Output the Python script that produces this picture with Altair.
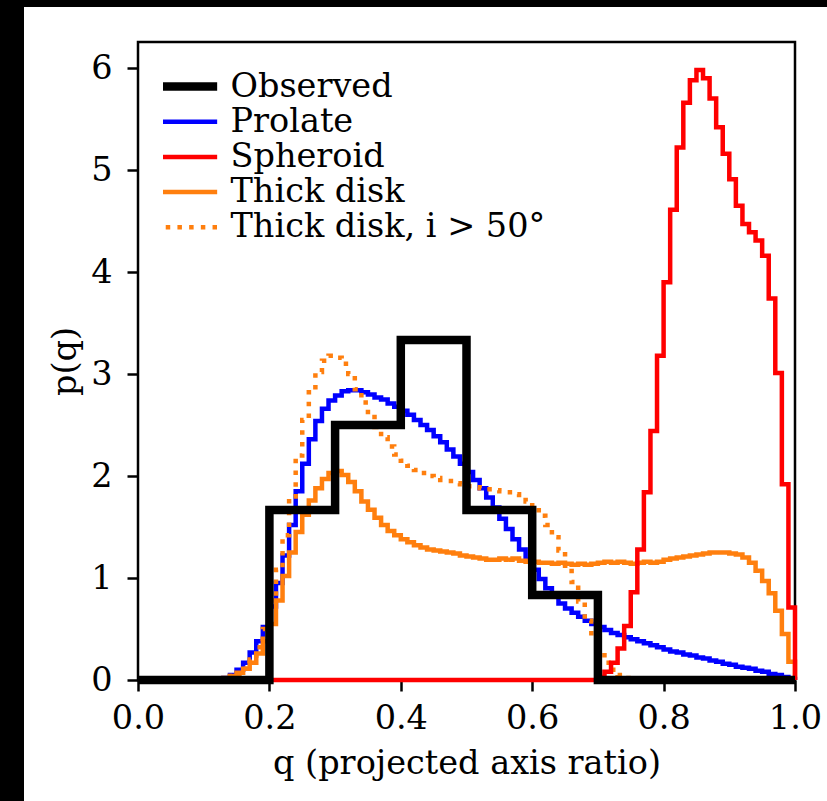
import altair as alt
import pandas as pd

SERIES = ["Observed", "Prolate", "Spheroid", "Thick disk", "Thick disk, i > 50°"]
COLORS = ["#000000", "#0000ff", "#ff0000", "#ff7f0e", "#ff7f0e"]
DASHES = [[1, 0], [1, 0], [1, 0], [1, 0], [4.5, 7.2]]

# observed histogram: 10 bins of width 0.1
obs_edges = [0.0, 0.1, 0.2, 0.3, 0.4, 0.5, 0.6, 0.7, 0.8, 0.9]
observed = [0.0, 0.0, 1.667, 2.5, 3.333, 1.667, 0.833, 0.0, 0.0, 0.0]

# model histograms: 100 bins of width 0.01 (left edges)
fine_edges = [i / 100 for i in range(100)]

prolate = [
    0, 0, 0, 0, 0, 0, 0, 0, 0, 0,
    0, 0, 0, 0.02, 0.05, 0.10, 0.17, 0.27, 0.38, 0.52,
    0.72, 0.95, 1.22, 1.52, 1.85, 2.12, 2.36, 2.54, 2.66, 2.74,
    2.79, 2.83, 2.84, 2.84, 2.82, 2.80, 2.77, 2.75, 2.71, 2.68,
    2.64, 2.60, 2.55, 2.50, 2.45, 2.39, 2.33, 2.26, 2.19, 2.12,
    2.04, 1.96, 1.88, 1.79, 1.69, 1.58, 1.48, 1.38, 1.28, 1.18,
    1.08, 0.99, 0.90, 0.82, 0.75, 0.70, 0.66, 0.62, 0.58, 0.55,
    0.52, 0.49, 0.46, 0.44, 0.42, 0.40, 0.38, 0.36, 0.34, 0.32,
    0.30, 0.28, 0.27, 0.25, 0.24, 0.22, 0.21, 0.19, 0.18, 0.16,
    0.15, 0.13, 0.12, 0.11, 0.09, 0.08, 0.06, 0.05, 0.03, 0.01,
]

spheroid = [
    0, 0, 0, 0, 0, 0, 0, 0, 0, 0,
    0, 0, 0, 0, 0, 0, 0, 0, 0, 0,
    0, 0, 0, 0, 0, 0, 0, 0, 0, 0,
    0, 0, 0, 0, 0, 0, 0, 0, 0, 0,
    0, 0, 0, 0, 0, 0, 0, 0, 0, 0,
    0, 0, 0, 0, 0, 0, 0, 0, 0, 0,
    0, 0, 0, 0, 0, 0, 0, 0, 0, 0,
    0.03, 0.08, 0.17, 0.31, 0.53, 0.86, 1.28, 1.84, 2.44, 3.18,
    3.90, 4.61, 5.22, 5.66, 5.88, 5.98, 5.90, 5.70, 5.42, 5.16,
    4.91, 4.65, 4.47, 4.39, 4.31, 4.16, 3.74, 3.01, 1.92, 0.71,
]

thick_disk = [
    0, 0, 0, 0, 0, 0, 0, 0, 0, 0,
    0, 0, 0, 0.02, 0.04, 0.07, 0.11, 0.17, 0.26, 0.38,
    0.55, 0.78, 1.02, 1.25, 1.45, 1.62, 1.76, 1.88, 1.97, 2.03,
    2.05, 2.01, 1.94, 1.85, 1.75, 1.67, 1.59, 1.52, 1.46, 1.42,
    1.38, 1.35, 1.32, 1.30, 1.28, 1.27, 1.26, 1.25, 1.24, 1.22,
    1.21, 1.20, 1.19, 1.18, 1.18, 1.19, 1.18, 1.19, 1.17, 1.16,
    1.16, 1.15, 1.15, 1.14, 1.15, 1.14, 1.13, 1.14, 1.13, 1.14,
    1.15, 1.16, 1.15, 1.16, 1.15, 1.14, 1.15, 1.16, 1.15, 1.16,
    1.18, 1.19, 1.20, 1.21, 1.22, 1.23, 1.24, 1.25, 1.25, 1.25,
    1.24, 1.23, 1.20, 1.15, 1.07, 0.97, 0.85, 0.68, 0.45, 0.18,
]

thick_disk_i50 = [
    0, 0, 0, 0, 0, 0, 0, 0, 0, 0,
    0, 0, 0, 0.02, 0.04, 0.06, 0.11, 0.20, 0.32, 0.50,
    0.78, 1.08, 1.42, 1.80, 2.20, 2.55, 2.82, 3.02, 3.13, 3.18,
    3.16, 3.10, 3.00, 2.85, 2.72, 2.60, 2.48, 2.38, 2.29, 2.21,
    2.15, 2.10, 2.06, 2.03, 2.00, 1.98, 1.96, 1.95, 1.93, 1.92,
    1.90, 1.89, 1.88, 1.87, 1.86, 1.85, 1.84, 1.82, 1.79, 1.75,
    1.69, 1.61, 1.52, 1.40, 1.27, 1.12, 0.96, 0.77, 0.58, 0.41,
    0.27, 0.17, 0.10, 0.05, 0.02, 0, 0, 0, 0, 0,
    0, 0, 0, 0, 0, 0, 0, 0, 0, 0,
    0, 0, 0, 0, 0, 0, 0, 0, 0, 0,
]


def step_rows(name, edges, vals, width):
    rows = [dict(series=name, q=edges[0], p=0.0, k=0)]
    for i, (e, v) in enumerate(zip(edges, vals)):
        rows.append(dict(series=name, q=e, p=v, k=i + 1))
    end = round(edges[-1] + width, 4)
    rows.append(dict(series=name, q=end, p=vals[-1], k=len(vals) + 1))
    rows.append(dict(series=name, q=end, p=0.0, k=len(vals) + 2))
    return rows


model_rows = (
    step_rows("Prolate", fine_edges, prolate, 0.01)
    + step_rows("Thick disk", fine_edges, thick_disk, 0.01)
    + step_rows("Thick disk, i > 50°", fine_edges, thick_disk_i50, 0.01)
    + step_rows("Spheroid", fine_edges, spheroid, 0.01)
)
obs_rows = step_rows("Observed", obs_edges, observed, 0.1)

models_df = pd.DataFrame(model_rows)
obs_df = pd.DataFrame(obs_rows)

FONT = "DejaVu Serif"
FS = 33.5

x_enc = alt.X(
    "q:Q",
    scale=alt.Scale(domain=[0, 1], nice=False, zero=False),
    axis=alt.Axis(
        values=[0.0, 0.2, 0.4, 0.6, 0.8, 1.0],
        format=".1f",
        title="q (projected axis ratio)",
        labelFlush=False,
        labelPadding=11,
        titlePadding=13,
    ),
)
y_enc = alt.Y(
    "p:Q",
    scale=alt.Scale(domain=[0, 6.255], nice=False),
    axis=alt.Axis(
        values=[0, 1, 2, 3, 4, 5, 6],
        format="d",
        title="p(q)",
        labelPadding=15,
        titlePadding=8,
    ),
)

legend = alt.Legend(
    title=None,
    orient="none",
    legendX=25,
    legendY=28,
    symbolType="stroke",
    symbolSize=5600,
    symbolStrokeWidth=alt.ExprRef("datum.value === 'Observed' ? 8.5 : 4.5"),
    clipHeight=33,
    rowPadding=1.2,
    labelOffset=34,
    labelFont=FONT,
    labelFontSize=FS,
    labelColor="black",
    labelLimit=0,
    padding=0,
)

color_enc = alt.Color(
    "series:N", scale=alt.Scale(domain=SERIES, range=COLORS), legend=legend
)
dash_enc = alt.StrokeDash(
    "series:N", scale=alt.Scale(domain=SERIES, range=DASHES), legend=legend
)

models = (
    alt.Chart(models_df)
    .mark_line(interpolate="step-after", strokeWidth=4.5, strokeCap="butt")
    .encode(x=x_enc, y=y_enc, color=color_enc, strokeDash=dash_enc, order="k:Q")
)

obs = (
    alt.Chart(obs_df)
    .mark_line(interpolate="step-after", strokeWidth=8.5, strokeJoin="miter", strokeCap="butt")
    .encode(x=x_enc, y=y_enc, color=color_enc, strokeDash=dash_enc, order="k:Q")
)

# dark frame around the figure (decoration)
frame_df = pd.DataFrame({"z": [0]})
left_band = alt.Chart(frame_df).mark_rect(color="black").encode(
    x=alt.value(-138), x2=alt.value(-114), y=alt.value(-42), y2=alt.value(760)
)
top_band = alt.Chart(frame_df).mark_rect(color="black").encode(
    x=alt.value(-138), x2=alt.value(689), y=alt.value(-42), y2=alt.value(-35)
)

chart = (
    alt.layer(models, obs, left_band, top_band)
    .properties(
        width=657,
        height=638,
        autosize=alt.AutoSizeParams(type="none"),
        padding={"left": 138, "top": 42, "right": 32, "bottom": 121},
        background="white",
    )
    .configure_view(stroke="black", strokeWidth=2.5)
    .configure_axis(
        labelFont=FONT,
        labelFontSize=FS,
        labelColor="black",
        titleFont=FONT,
        titleFontSize=FS,
        titleFontWeight="normal",
        titleColor="black",
        tickSize=11,
        tickWidth=2.5,
        tickColor="black",
        domain=False,
        grid=False,
    )
)

chart.save("out.html", embed_options={"renderer": "svg", "actions": False})
